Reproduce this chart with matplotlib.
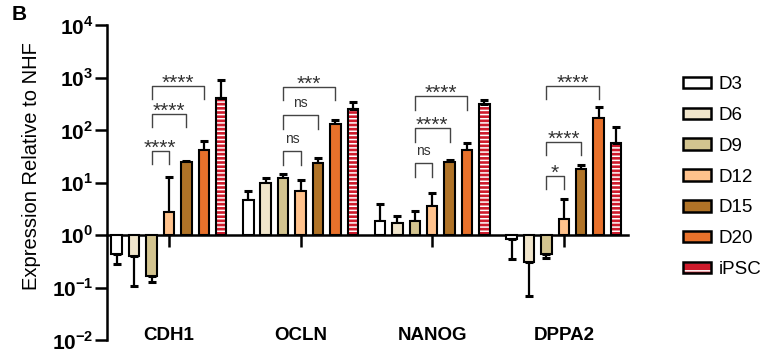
import matplotlib
matplotlib.use("Agg")
import matplotlib.pyplot as plt
from matplotlib.legend_handler import HandlerTuple
from matplotlib.patches import Patch
import numpy as np

plt.rcParams["font.family"] = ["Liberation Sans", "DejaVu Sans"]
plt.rcParams["mathtext.fontset"] = "custom"
plt.rcParams["mathtext.rm"] = "Liberation Sans:bold"
plt.rcParams["mathtext.bf"] = "Liberation Sans:bold"
plt.rcParams["hatch.linewidth"] = 1.1

genes = ["CDH1", "OCLN", "NANOG", "DPPA2"]
days = ["D3", "D6", "D9", "D12", "D15", "D20", "iPSC"]

# mean values (relative to NHF), per day across genes
d3 = [0.44, 4.7, 1.83, 0.84]
d6 = [0.40, 9.8, 1.67, 0.31]
d9 = [0.165, 12.2, 1.87, 0.43]
d12 = [2.7, 7.0, 3.5, 2.0]
d15 = [24.6, 23.5, 24.9, 18.0]
d20 = [41.7, 130, 41.7, 170]
ipsc = [407, 251, 315, 57]

# where the error bar ends
d3_err = [0.28, 7.0, 3.95, 0.35]
d6_err = [0.107, 12.0, 2.27, 0.07]
d9_err = [0.125, 14.5, 2.83, 0.36]
d12_err = [13.0, 11.2, 6.3, 4.85]
d15_err = [26.0, 29.0, 27.0, 21.5]
d20_err = [62.0, 157, 56.0, 270]
ipsc_err = [900, 346, 377, 116]

valores = [d3, d6, d9, d12, d15, d20, ipsc]
erros = [d3_err, d6_err, d9_err, d12_err, d15_err, d20_err, ipsc_err]
cores = ["#FFFFFF", "#F0E5CB", "#D3C48F", "#FFC28C", "#B07327", "#E8712B", "#CE1A2B"]

# significance brackets: gene index, day from, day to, level, text
sig_gene = [0, 0, 0, 1, 1, 1, 2, 2, 2, 3, 3, 3]
sig_de = [2] * 12
sig_ate = [3, 4, 5, 3, 4, 5, 3, 4, 5, 3, 4, 5]
sig_nivel = [40, 202, 698, 39, 193, 668, 23.5, 108, 439, 13.5, 60, 698]
sig_texto = ["****", "****", "****", "ns", "ns", "***",
             "ns", "****", "****", "*", "****", "****"]

fig = plt.figure(figsize=(7.65, 3.54), dpi=100)
ax = fig.add_axes([107 / 765, 14 / 354, (628 - 107) / 765, 315 / 354])

x = np.arange(len(genes))
passo = 0.1323
largura = 0.08
handles = []
for i, (v, e, c) in enumerate(zip(valores, erros, cores)):
    v = np.array(v)
    e = np.array(e)
    pos = x + (i - 3) * passo
    altura = v - 1
    if days[i] == "iPSC":
        ax.bar(pos, altura, largura, bottom=1, color=c, edgecolor="white",
               hatch="----", linewidth=0, zorder=2)
        ax.bar(pos, altura, largura, bottom=1, color="none",
               edgecolor="black", linewidth=1.5, zorder=3)
        # legend: single white stripe
        h = (Patch(facecolor=c, edgecolor="white", hatch="--", linewidth=0),
             Patch(facecolor="none", edgecolor="black", linewidth=1.8))
    else:
        h = ax.bar(pos, altura, largura, bottom=1, color=c,
                   edgecolor="black", linewidth=1.5, zorder=3)
    baixo = np.where(v < 1, v - e, 0)
    cima = np.where(v >= 1, e - v, 0)
    ax.errorbar(pos, v, yerr=[baixo, cima], fmt="none", ecolor="black",
                elinewidth=1.6, capsize=3, capthick=2.2, zorder=2.5)
    handles.append(h)

for g, a, b, n, t in zip(sig_gene, sig_de, sig_ate, sig_nivel, sig_texto):
    xa = g + (a - 3) * passo
    xb = g + (b - 3) * passo
    perna = n / 10 ** 0.257
    ax.plot([xa, xa, xb, xb], [perna, n, n, perna], color="#444444", lw=1.0, zorder=4)
    if t == "ns":
        ax.text((xa + xb) / 2, n * 10 ** (8 / 52.5), t, ha="center", va="baseline",
                fontsize=10, color="#333333")
    else:
        ax.text((xa + xb) / 2, n * 10 ** (-3 / 52.5), t, ha="center", va="baseline",
                fontsize=15, color="#333333")

ax.set_yscale("log")
ax.set_ylim(1e-2, 1e4)
ax.set_xlim(-0.471, 3.488)
ax.set_yticks([1e-2, 1e-1, 1e0, 1e1, 1e2, 1e3, 1e4])
ax.set_yticklabels([r"$\mathbf{10}^{\mathrm{%d}}$" % k for k in range(-2, 5)])
ax.yaxis.set_minor_locator(matplotlib.ticker.NullLocator())
ax.tick_params(axis="y", labelsize=15, width=1.8, length=9, pad=1)
ax.set_xticks(x)
ax.set_xticklabels([])
ax.tick_params(axis="x", width=1.8, length=8.5, direction="out")
ax.spines["bottom"].set_position(("data", 1))
ax.spines["top"].set_visible(False)
ax.spines["right"].set_visible(False)
ax.spines["left"].set_linewidth(1.8)
ax.spines["bottom"].set_linewidth(1.8)
ax.patch.set_alpha(0)

for g, nome in zip(x, genes):
    ax.text(g, (340 - 336) / 315, nome, transform=ax.get_xaxis_transform(),
            ha="center", va="center", fontsize=13.5, fontweight="bold")

fig.text(32 / 765, 1 - 166 / 354, "Expression Relative to NHF", rotation=90,
         ha="center", va="center", fontsize=14.5)
fig.text(19 / 765, 1 - 15 / 354, "B", ha="center", va="center",
         fontsize=15, fontweight="bold")

leg = fig.legend(handles, days, loc="upper left", bbox_to_anchor=(683 / 765, 1 - 76 / 354),
                 frameon=False, fontsize=13.5, handlelength=1.5, handleheight=0.55,
                 handletextpad=0.4, labelspacing=0.74, borderpad=0, borderaxespad=0,
                 handler_map={tuple: HandlerTuple(ndivide=1, pad=0)})
for p in leg.legend_handles[:-1]:
    p.set_linewidth(1.8)

fig.savefig("out.png", dpi=100)
